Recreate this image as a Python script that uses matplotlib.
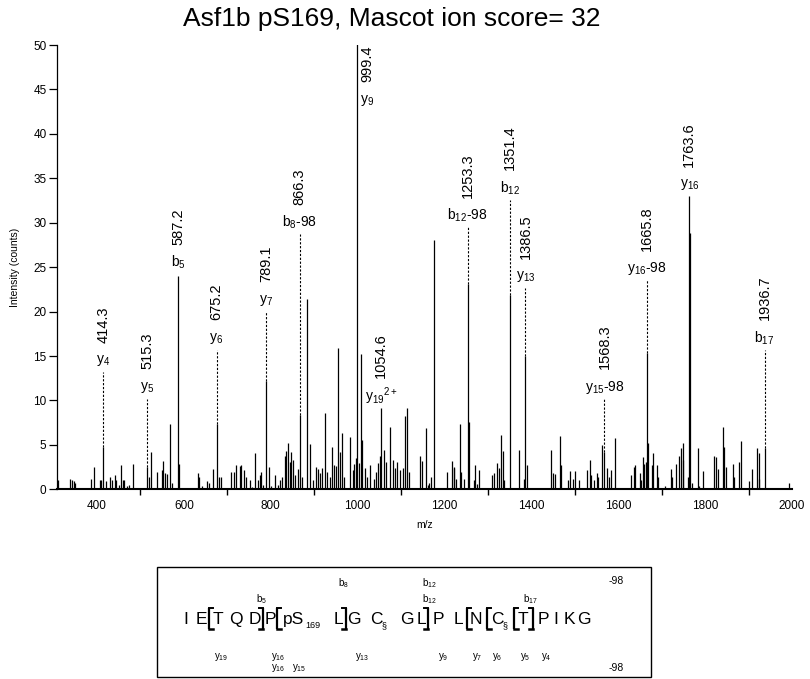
import matplotlib
matplotlib.use('Agg')
import matplotlib.pyplot as plt
from matplotlib.patches import Rectangle

plt.rcParams['font.family'] = ['Liberation Sans', 'DejaVu Sans']
plt.rcParams['mathtext.fontset'] = 'custom'
plt.rcParams['mathtext.rm'] = 'Liberation Sans'
plt.rcParams['mathtext.it'] = 'Liberation Sans'

# Spektrum: m/z ve yogunluk
mz = [310, 338.5, 342, 346, 350, 387, 394, 406, 409, 414.3, 420.6, 430.6, 434, 440.6, 444,
      450, 455, 459, 463, 469, 474, 483, 515.3, 519, 525, 538, 549.5, 552, 557, 561,
      568.7, 572.5, 587.2, 589, 632, 636, 641.6, 653, 658.5, 667, 675.2, 680, 685, 709,
      714.5, 720.6, 730, 732, 737.5, 743, 753, 758, 764.3, 770, 774.3, 777.4, 782, 789.1,
      795, 800, 810, 816, 822, 827, 832, 835, 839.5, 843.4, 847, 851, 855, 862.5, 866.3,
      872.5, 883.5, 891, 897, 904, 908, 912.4, 917.8, 925, 928.5, 935.4, 940.8, 944.6,
      950, 955.5, 958.4, 963.8, 969, 983, 988.3, 992, 996.8, 999.4, 1003, 1008, 1011,
      1016, 1021.4, 1029, 1036.7, 1042, 1046, 1050.5, 1054.6, 1061, 1065, 1075, 1081,
      1086.6, 1090.4, 1096.5, 1103.4, 1108, 1113.4, 1118.8, 1144, 1148.7, 1157, 1161.7,
      1165.5, 1169, 1177, 1206, 1217, 1221, 1223, 1227, 1234.6, 1238, 1246, 1253.3,
      1255.5, 1267, 1270.6, 1275, 1279, 1310, 1313.6, 1321, 1326.6, 1330.5, 1334, 1338,
      1351.4, 1371, 1384, 1386.5, 1389, 1426, 1445.5, 1449, 1455, 1465, 1468.6, 1484,
      1489, 1495.4, 1501.5, 1510.7, 1527.6, 1534, 1537.6, 1543.7, 1550, 1554.5, 1562,
      1568.3, 1574, 1578, 1583, 1593, 1629, 1636.6, 1639, 1650.5, 1653, 1656, 1660.4,
      1663, 1665.8, 1669.6, 1677, 1679.6, 1690.3, 1692.6, 1708, 1721, 1723.3, 1733.3,
      1740, 1745, 1748, 1750, 1761.7, 1763.6, 1765.5, 1769.4, 1783, 1787, 1795, 1821.5,
      1825.4, 1829, 1840.7, 1844.5, 1848.4, 1864, 1867, 1879, 1882, 1900, 1907.5, 1919,
      1923, 1925, 1936.7, 1992]
intensity = [1.0, 1.2, 1.0, 0.9, 0.7, 1.2, 2.5, 1.0, 1.1, 4.8, 0.9, 1.35, 1.05, 1.6, 1.0,
             0.5, 2.7, 1.0, 1.0, 0.4, 0.5, 2.85, 2.5, 1.4, 4.25, 2.0, 2.2, 3.2, 1.8, 1.7,
             7.35, 0.7, 24.0, 2.9, 1.8, 1.4, 0.4, 0.9, 0.75, 2.25, 7.4, 1.4, 1.4, 1.9,
             2.0, 2.75, 2.6, 2.7, 2.2, 1.4, 1.05, 0.3, 4.05, 1.05, 1.6, 2.0, 0.5, 12.2,
             2.55, 0.4, 1.6, 0.5, 1.05, 1.4, 3.7, 4.35, 5.2, 3.1, 4.25, 3.3, 1.6, 2.25, 8.4,
             1.4, 21.4, 5.1, 1.05, 2.55, 2.25, 1.8, 2.4, 8.6, 1.9, 1.4, 4.8, 2.7,
             2.6, 15.9, 4.25, 6.3, 1.4, 5.9, 2.2, 2.9, 3.5, 52.0, 3.0, 15.2, 5.5,
             2.4, 1.4, 2.7, 1.2, 2.0, 3.0, 3.7, 9.2, 4.4, 3.1, 7.05, 3.3,
             2.4, 3.1, 2.2, 2.4, 8.2, 9.1, 2.0, 3.75, 3.2, 6.9, 0.5,
             0.7, 1.35, 28.0, 1.9, 3.2, 2.4, 2.5, 1.2, 7.3, 1.9, 1.2, 23.1,
             7.6, 1.05, 2.7, 0.6, 2.2, 1.6, 1.8, 3.0, 2.4, 6.1, 4.3, 1.05,
             21.9, 4.4, 1.2, 15.0, 2.7, 0.2, 4.4, 1.8, 1.7, 6.0, 2.7, 1.0,
             2.1, 1.2, 2.1, 1.0, 2.2, 3.3, 1.6, 1.05, 1.8, 1.4, 5.0,
             4.2, 2.4, 1.4, 2.2, 5.75, 1.6, 2.5, 2.7, 1.8, 1.05, 3.6, 2.85,
             3.1, 15.3, 5.2, 2.7, 4.1, 2.7, 1.4, 0.4, 2.25, 1.4, 2.9,
             3.75, 4.6, 5.2, 3.3, 1.35, 33.0, 28.8, 0.7, 4.6, 0.4, 2.1, 3.75,
             3.6, 2.25, 7.0, 4.8, 2.5, 2.9, 1.4, 3.1, 5.4, 0.9, 2.25, 4.7,
             4.05, 1.2, 4.6, 0.75]

# Isaretli iyonlar
ann_mz = [414.3, 515.3, 587.2, 675.2, 789.1, 866.3, 999.4, 1054.6, 1253.3, 1351.4,
          1386.5, 1568.3, 1665.8, 1763.6, 1936.7]
ann_ion = ['y_{4}', 'y_{5}', 'b_{5}', 'y_{6}', 'y_{7}', 'b_{8}', 'y_{9}', 'y_{19}{}^{2+}',
           'b_{12}', 'b_{12}', 'y_{13}', 'y_{15}', 'y_{16}', 'y_{16}', 'b_{17}']
ann_loss = ['', '', '', '', '', '-98', '', '', '-98', '', '', '-98', '-98', '', '']
ann_label_y = [14.5, 11.5, 25.5, 17.0, 21.3, 30.0, 43.8, 10.5, 30.8, 33.9, 23.9, 11.5,
               24.8, 34.3, 17.0]

# Peptit dizisi
residues = ['I', 'E', 'T', 'Q', 'D', 'P', 'pS', 'L', 'G', 'C', 'G', 'L', 'P', 'L', 'N',
            'C', 'T', 'P', 'I', 'K', 'G']
residue_sub = ['', '', '', '', '', '', '169', '', '', '§', '', '', '', '', '', '§', '', '',
               '', '', '']
breaks = ['[', ']', '[', ']', ']', '[', '[', '[', ']']
b_row = ['b_{5}', 'b_{12}', 'b_{17}']
b98_row = ['b_{8}', 'b_{12}']
y_row = ['y_{19}', 'y_{16}', 'y_{13}', 'y_{9}', 'y_{7}', 'y_{6}', 'y_{5}', 'y_{4}']
y98_row = ['y_{16}', 'y_{15}']

W, H = 810, 679
fig = plt.figure(figsize=(W / 100, H / 100), dpi=100)
ax = fig.add_axes([57 / W, 1 - 489.3 / H, (792 - 57) / W, (489.3 - 45) / H])

ax.vlines(mz, 0, intensity, color='black', lw=0.9)

for m, ion, loss, ly in zip(ann_mz, ann_ion, ann_loss, ann_label_y):
    peak = max(v for x, v in zip(mz, intensity) if abs(x - m) < 0.6)
    dx = 0
    if peak > ly:
        dx = 22
    else:
        top = ly - 1.3
        if top > peak + 0.3:
            ax.vlines(m, peak, top, color='black', lw=0.8, linestyles=(0, (2, 1.5)))
    ax.text(m + dx, ly, r'$\mathregular{' + ion + '}$' + loss, ha='center', va='center',
            fontsize=10)
    ax.text(m + dx, ly + 2.0, f'{m:.1f}', rotation=90, ha='center', va='bottom',
            fontsize=10.5)

ax.set_xlim(308, 2000)
ax.set_ylim(0, 50)
ax.spines['top'].set_visible(False)
ax.spines['right'].set_visible(False)
ax.spines['bottom'].set_linewidth(1.5)
ax.spines['left'].set_linewidth(0.9)
ax.set_xticks(range(400, 2001, 200))
ax.set_xticks(range(500, 2000, 200), minor=True)
ax.set_yticks(range(0, 51, 5))
ax.tick_params(axis='x', which='major', length=0, pad=8, labelsize=8.5)
ax.tick_params(axis='x', which='minor', length=4, width=1, direction='out')
ax.tick_params(axis='y', length=6, width=0.9, pad=1.5, labelsize=8.5)

fig.text(392 / W, 1 - 19 / H, 'Asf1b pS169, Mascot ion score= 32', ha='center',
         va='center', fontsize=19)
fig.text(425 / W, 1 - 525 / H, 'm/z', ha='center', va='center', fontsize=7.5)
fig.text(15 / W, 1 - 267 / H, 'Intensity (counts)', rotation=90, ha='center',
         va='center', fontsize=7.5)

# Dizi kutusu (piksel koordinatlari)
ov = fig.add_axes([0, 0, 1, 1])
ov.set_xlim(0, W)
ov.set_ylim(H, 0)
ov.axis('off')
ov.add_patch(Rectangle((157, 567), 494, 110, fill=False, lw=1.0, color='black'))

res_x = [186, 201, 218, 236, 255, 270, 294, 338, 354, 376, 407, 421, 438, 458, 476, 497,
         523, 543, 556, 569, 584]
for x, r, s in zip(res_x, residues, residue_sub):
    ov.text(x, 624, r, ha='center', va='baseline', fontsize=12.5)
    if s:
        sx = x + (11 if r == 'pS' else 6)
        ov.text(sx, 628, s, ha='left', va='baseline', fontsize=6.5)

brk_x = [209, 263, 277, 346, 428, 467, 487, 514, 533]
for x, b in zip(brk_x, breaks):
    d = 4 if b == '[' else -4
    ov.plot([x, x], [607.5, 629], color='black', lw=1.6, solid_capstyle='butt')
    ov.plot([x, x + d], [607.5, 607.5], color='black', lw=1.4)
    ov.plot([x, x + d], [629, 629], color='black', lw=1.8)

for x, lab in zip([262, 429, 530], b_row):
    ov.text(x, 599, r'$\mathregular{' + lab + '}$', ha='center', va='center', fontsize=7)
for x, lab in zip([343, 429], b98_row):
    ov.text(x, 583, r'$\mathregular{' + lab + '}$', ha='center', va='center', fontsize=7)
for x, lab in zip([221, 278, 362, 443, 477, 497, 525, 546], y_row):
    ov.text(x, 657, r'$\mathregular{' + lab + '}$', ha='center', va='center', fontsize=7)
for x, lab in zip([278, 299], y98_row):
    ov.text(x, 668, r'$\mathregular{' + lab + '}$', ha='center', va='center', fontsize=7)
ov.text(616, 581, '-98', ha='center', va='center', fontsize=7.5)
ov.text(616, 668, '-98', ha='center', va='center', fontsize=7.5)

fig.savefig('out.png', dpi=100)
